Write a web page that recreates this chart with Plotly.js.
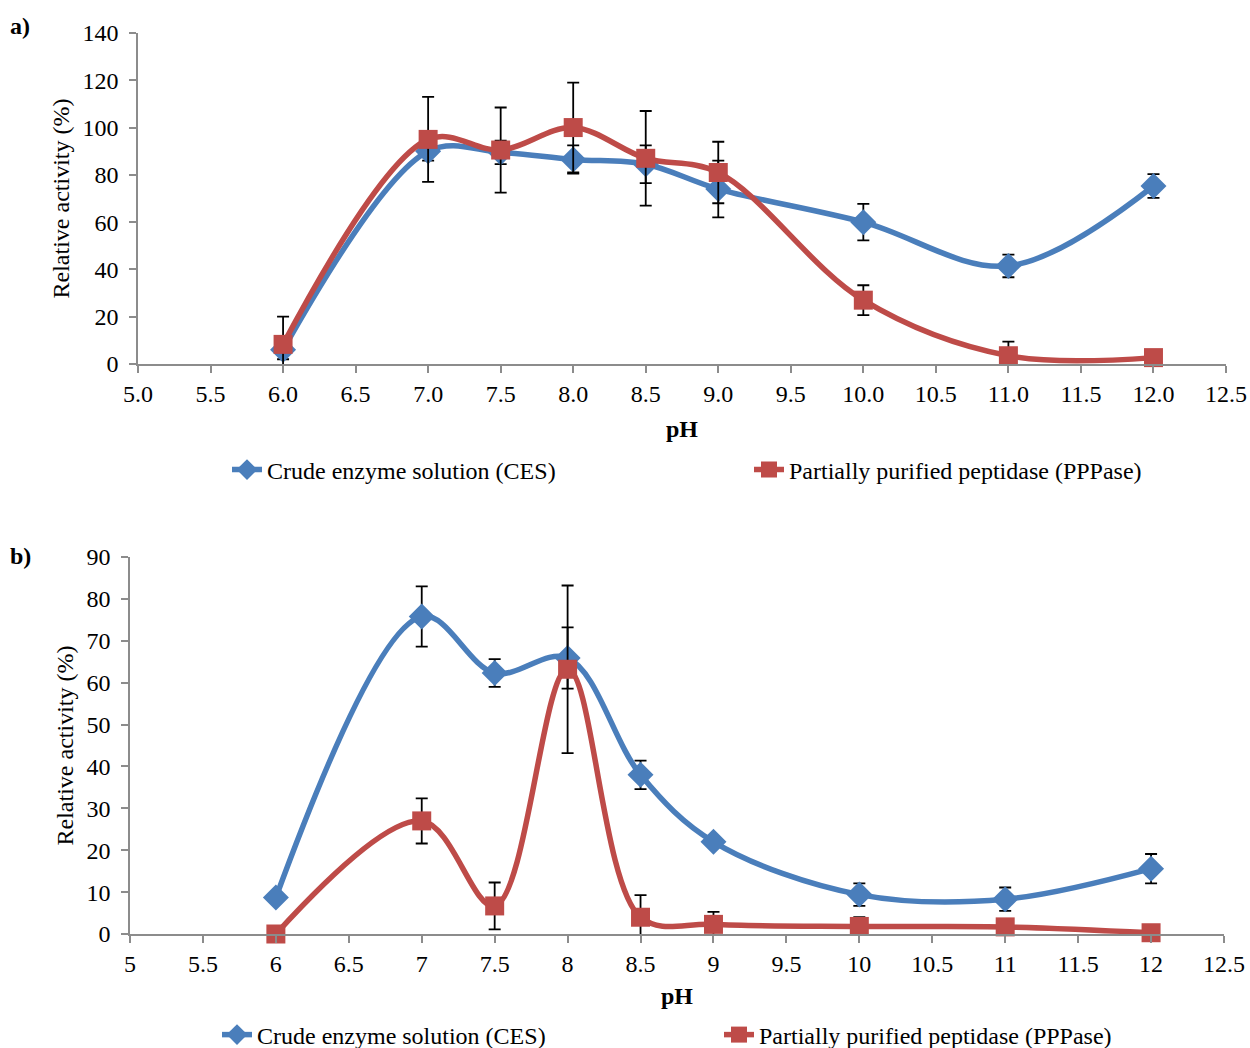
<!DOCTYPE html>
<html>
<head>
<meta charset="utf-8">
<script src="https://cdn.plot.ly/plotly-3.0.1.min.js"></script>
<style>html,body{margin:0;padding:0;background:#fff;}#chart{width:1250px;height:1048px;}</style>
</head>
<body>
<div id="chart"></div>
<script>
// pH values
const phValues = [6, 7, 7.5, 8, 8.5, 9, 10, 11, 12];

// Panel a)
const cesA = [6, 90, 89.5, 86.5, 84.5, 74, 60, 41.5, 75.3];
const cesAErr = [4, 4, 5, 6, 8, 12, 7.7, 4.8, 5];
const ppA = [8.3, 95, 90.5, 100, 87, 81, 27, 3.5, 2.7];
const ppAErr = [11.7, 18, 18, 19, 20, 13, 6.3, 6, 0];

// Panel b)
const cesB = [8.7, 75.8, 62.3, 65.9, 38, 22, 9.4, 8.3, 15.6];
const cesBErr = [0, 7.2, 3.3, 7.3, 3.4, 0, 2.7, 2.8, 3.5];
const ppB = [0, 27, 6.7, 63.2, 4, 2.3, 1.8, 1.7, 0.3];
const ppBErr = [0, 5.4, 5.6, 20, 5.3, 3, 2.2, 0, 0];

const xTicksA = [5, 5.5, 6, 6.5, 7, 7.5, 8, 8.5, 9, 9.5, 10, 10.5, 11, 11.5, 12, 12.5];
const nameCES = 'Crude enzyme solution (CES)';
const namePP = 'Partially purified peptidase (PPPase)';

const blue = '#4a7ebb';
const red = '#be4b48';
const font = 'Liberation Serif, Times New Roman, serif';
const fs = 24;

function trace(y, err, color, symbol, size, name, xa, ya, leg) {
  return {
    x: phValues, y: y, name: name, type: 'scatter', mode: 'lines+markers',
    xaxis: xa, yaxis: ya, legend: leg, cliponaxis: false,
    line: {color: color, width: 5.5, shape: 'spline', smoothing: 1},
    marker: {color: color, symbol: symbol, size: size},
    error_y: {type: 'data', array: err, visible: true, color: '#000', thickness: 1.8, width: 6}
  };
}

const data = [
  trace(cesA, cesAErr, blue, 'diamond', 20, nameCES, 'x', 'y', 'legend'),
  trace(ppA, ppAErr, red, 'square', 19, namePP, 'x', 'y', 'legend'),
  trace(cesB, cesBErr, blue, 'diamond', 20, nameCES, 'x2', 'y2', 'legend2'),
  trace(ppB, ppBErr, red, 'square', 19, namePP, 'x2', 'y2', 'legend2')
];

const axisCommon = {
  showgrid: false, zeroline: false, showline: true, linecolor: '#8c8c8c', linewidth: 1.5,
  ticks: 'outside', tickcolor: '#8c8c8c', ticklen: 7, tickwidth: 1.5,
  tickfont: {family: font, size: fs, color: '#000'}
};

const layout = {
  width: 1250, height: 1048,
  margin: {l: 0, r: 0, t: 0, b: 0, autoexpand: false},
  paper_bgcolor: '#fff', plot_bgcolor: '#fff',
  font: {family: font, color: '#000'},
  xaxis: Object.assign({}, axisCommon, {
    domain: [138/1250, 1226/1250], anchor: 'y', range: [5, 12.5],
    tickvals: xTicksA, tickformat: '.1f', automargin: false,
    title: {text: '<b>pH</b>', font: {family: font, size: fs}, standoff: 15}
  }),
  yaxis: Object.assign({}, axisCommon, {
    domain: [1 - 364/1048, 1 - 33/1048], anchor: 'x', range: [0, 140], dtick: 20, automargin: false,
    ticklabelstandoff: 6,
    title: {text: 'Relative activity (%)', font: {family: font, size: fs}, standoff: 6}
  }),
  xaxis2: Object.assign({}, axisCommon, {
    domain: [130/1250, 1224/1250], anchor: 'y2', range: [5, 12.5], dtick: 0.5, tick0: 5, automargin: false,
    title: {text: '<b>pH</b>', font: {family: font, size: fs}, standoff: 12}
  }),
  yaxis2: Object.assign({}, axisCommon, {
    domain: [1 - 934/1048, 1 - 557/1048], anchor: 'x2', range: [0, 90], dtick: 10, automargin: false,
    ticklabelstandoff: 6,
    title: {text: 'Relative activity (%)', font: {family: font, size: fs}, standoff: 6}
  }),
  legend: {
    orientation: 'h', x: 227/1250, y: 1 - 470/1048, xanchor: 'left', yanchor: 'middle',
    font: {family: font, size: fs}, entrywidth: 477, itemwidth: 30, bgcolor: 'rgba(0,0,0,0)'
  },
  legend2: {
    orientation: 'h', x: 217/1250, y: 1 - 1035/1048, xanchor: 'left', yanchor: 'middle',
    font: {family: font, size: fs}, entrywidth: 457, itemwidth: 30, bgcolor: 'rgba(0,0,0,0)'
  },
  annotations: [
    {text: '<b>a)</b>', xref: 'paper', yref: 'paper', x: 8/1250, y: 1 - 26/1048, xanchor: 'left', yanchor: 'middle', showarrow: false, font: {family: font, size: fs}},
    {text: '<b>b)</b>', xref: 'paper', yref: 'paper', x: 8/1250, y: 1 - 556/1048, xanchor: 'left', yanchor: 'middle', showarrow: false, font: {family: font, size: fs}}
  ]
};

Plotly.newPlot('chart', data, layout, {displayModeBar: false});
</script>
</body>
</html>
